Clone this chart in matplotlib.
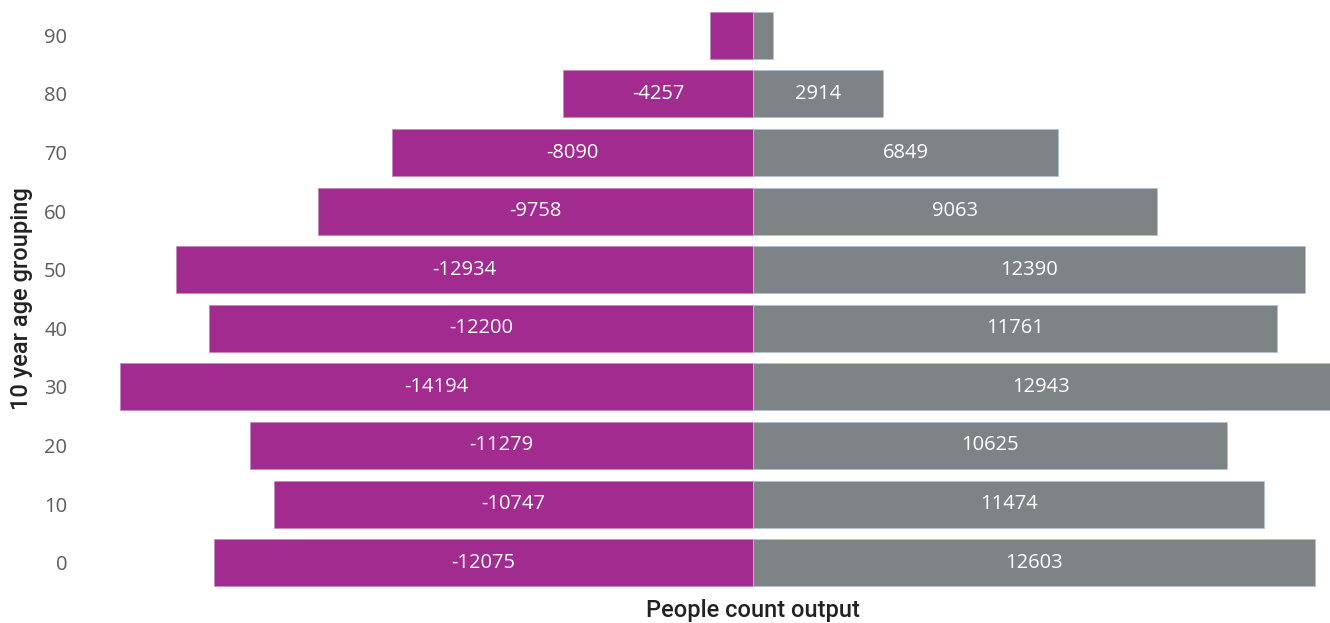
import matplotlib
matplotlib.use("Agg")
import matplotlib.pyplot as plt

# Population pyramid by 10-year age group
age_groups = ["0", "10", "20", "30", "40", "50", "60", "70", "80", "90"]
left_counts = [-12075, -10747, -11279, -14194, -12200, -12934, -9758, -8090, -4257, -970]
right_counts = [12603, 11474, 10625, 12943, 11761, 12390, 9063, 6849, 2914, 450]
labelled = [True] * 9 + [False]

magenta = "#A12B8E"
grey = "#7E8386"

fig = plt.figure(figsize=(13.3, 6.23), dpi=100)
ax = fig.add_axes([120 / 1330, 1 - 592 / 623, 1 - 120 / 1330, (592 - 6) / 623])

y = range(len(age_groups))
ax.barh(y, left_counts, height=0.8, color=magenta, edgecolor="#C58BBE", linewidth=0.6)
ax.barh(y, right_counts, height=0.8, color=grey, edgecolor="#A9C3DA", linewidth=0.6)

for i, (lv, rv, show) in enumerate(zip(left_counts, right_counts, labelled)):
    if not show:
        continue
    ax.text(lv / 2, i, f"{lv}", ha="center", va="center", color="white",
            fontsize=14.5, family="Open Sans")
    ax.text(rv / 2, i, f"{rv}", ha="center", va="center", color="white",
            fontsize=14.5, family="Open Sans")

xmin, xmax = min(left_counts), max(right_counts)
ax.set_xlim(xmin, xmax)
ax.set_ylim(-0.5, len(age_groups) - 0.5)
ax.set_yticks(list(y))
ax.set_yticklabels(age_groups, family="Open Sans", fontsize=14.5, color="#5c5c5c")
ax.tick_params(axis="y", length=0, pad=38)
ax.set_xticks([])
for s in ax.spines.values():
    s.set_visible(False)

ax.set_xlabel("People count output", family="Roboto", fontsize=17, weight="medium",
              color="#222222")
ax.xaxis.set_label_coords((0 - xmin) / (xmax - xmin), -18 / 586, transform=ax.transAxes)
ax.xaxis.label.set_va("center")
ax.set_ylabel("10 year age grouping", family="Roboto", fontsize=17, weight="medium",
              color="#222222")
ax.yaxis.set_label_coords(-98 / 1210, 0.5)
ax.yaxis.label.set_va("center")

fig.savefig("out.png", dpi=100, facecolor="white")
